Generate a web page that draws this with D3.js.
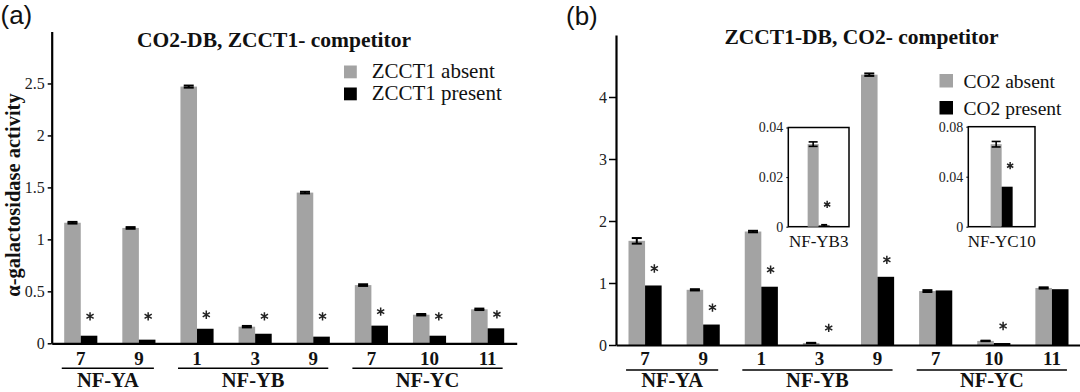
<!DOCTYPE html>
<html><head><meta charset="utf-8">
<script src="https://cdn.jsdelivr.net/npm/d3@7"></script>
<style>body{margin:0;background:#fff}svg{display:block}</style>
</head><body>
<svg id="c" width="1080" height="392"></svg>
<script>
// ---------- data ----------
const categories = ["7","9","1","3","9","7","10","11"];
const groupNames = ["NF-YA","NF-YB","NF-YC"];
const groupOf = [0,0,1,1,1,2,2,2];

const aTitle = "CO2-DB, ZCCT1- competitor";
const aLegend = ["ZCCT1 absent","ZCCT1 present"];
const aTicks = [0,0.5,1,1.5,2,2.5];
const aAbsent    = [1.16,1.11,2.47,0.16,1.45,0.56,0.275,0.327];
const aAbsentErr = [0.008,0.008,0.01,0.007,0.008,0.008,0.007,0.007];
const aPresent   = [0.073,0.035,0.14,0.092,0.064,0.17,0.073,0.144];
const aSig       = [1,1,1,1,1,1,1,1];

const bTitle = "ZCCT1-DB, CO2- competitor";
const bLegend = ["CO2 absent","CO2 present"];
const bTicks = [0,1,2,3,4];
const bAbsent    = [1.68,0.89,1.83,0.033,4.36,0.87,0.066,0.92];
const bAbsentErr = [0.045,0.01,0.012,0.002,0.02,0.015,0.004,0.01];
const bPresent   = [0.96,0.33,0.94,0.0005,1.10,0.88,0.032,0.90];
const bSig       = [1,1,1,1,1,0,1,0];

const insetLabels     = ["NF-YB3","NF-YC10"];
const insetMax        = [0.04,0.08];
const insetTicks      = [[0,0.02,0.04],[0,0.04,0.08]];
const insetTickLabels = [["0","0.02","0.04"],["0","0.04","0.08"]];
const insetAbsent     = [0.0333,0.066];
const insetAbsentErr  = [0.0009,0.0022];
const insetPresent    = [0.0005,0.032];
const insetPresentErr = [0.0003,0];
const insetSig        = [1,1];

// ---------- style ----------
const GRAY = "#a3a3a3", BLACK = "#000";
const SERIF = "'Liberation Serif','Times New Roman',serif";
const SANS = "'Liberation Sans',Arial,sans-serif";
const svg = d3.select("#c");
const star = (g, cx, cy, size) => g.append("path")
  .attr("d", d3.symbol(d3.symbolAsterisk, size)())
  .attr("transform", `translate(${cx},${cy})`)
  .attr("fill", "none").attr("stroke", "#222").attr("stroke-width", 1.5);

function errBar(g, cx, y, v, e, half, sw) {
  g.append("line").attr("x1", cx).attr("x2", cx).attr("y1", y(v + e)).attr("y2", y(Math.max(0, v - e)))
    .attr("stroke", BLACK).attr("stroke-width", sw);
  [v + e, Math.max(0, v - e)].forEach(t => g.append("line")
    .attr("x1", cx - half).attr("x2", cx + half).attr("y1", y(t)).attr("y2", y(t))
    .attr("stroke", BLACK).attr("stroke-width", sw));
}

function drawPanel(c) {
  const g = svg.append("g");
  const x = d3.scaleBand().domain(d3.range(categories.length)).range([c.x0, c.x1])
    .paddingInner(0.43).paddingOuter(0.215);
  const inner = d3.scaleBand().domain(["absent","present"]).range([0, x.bandwidth()]);
  const y = d3.scaleLinear().domain([0, c.yMax]).range([c.yZero, c.yTop]);

  // bars
  g.selectAll(".ga").data(c.absent).join("rect")
    .attr("x", (d,i) => x(i) + inner("absent")).attr("width", inner.bandwidth())
    .attr("y", d => y(d)).attr("height", d => y(0) - y(d)).attr("fill", GRAY);
  g.selectAll(".gp").data(c.present).join("rect")
    .attr("x", (d,i) => x(i) + inner("present")).attr("width", inner.bandwidth())
    .attr("y", d => y(d)).attr("height", d => y(0) - y(d)).attr("fill", BLACK);
  c.absent.forEach((v,i) => errBar(g, x(i) + inner("absent") + inner.bandwidth()/2, y, v, c.absentErr[i], 5, 2));

  // asterisks
  c.sig.forEach((s,i) => {
    if (!s) return;
    const cy = Math.min(y(c.present[i]) - c.starGap, y(0) - c.starFloor);
    star(g, x(i) + inner("present") + inner.bandwidth()/2 + 1, cy, 48);
  });

  // y axis
  const ya = g.append("g").attr("transform", `translate(${c.x0},0)`)
    .call(d3.axisLeft(y).tickValues(c.ticks).tickSize(c.tickSize).tickSizeOuter(0)
      .tickPadding(c.tickPad).tickFormat(d3.format("~g")));
  ya.select(".domain").attr("stroke-width", 2.2);
  ya.selectAll(".tick line").attr("stroke-width", 1.5);
  ya.selectAll("text").style("font-family", SERIF).style("font-size","16px").attr("fill","#222");

  // x axis
  const xa = g.append("g").attr("transform", `translate(0,${c.yZero})`)
    .call(d3.axisBottom(x).tickSize(0).tickSizeOuter(0).tickFormat(i => categories[i]));
  xa.select(".domain").attr("stroke-width", 2.2);
  xa.selectAll("text").attr("dy", null).attr("y", 365 - c.yZero)
    .style("font-family", SERIF).style("font-size","19px").style("font-weight","bold").attr("fill","#111");

  // groups
  groupNames.forEach((name, gi) => {
    const idx = d3.range(categories.length).filter(i => groupOf[i] === gi);
    const x1 = x(idx[0]) + x.bandwidth()/2 - 19, x2 = x(idx[idx.length-1]) + x.bandwidth()/2 + 15;
    g.append("line").attr("x1", x1).attr("x2", x2).attr("y1", c.yZero + 25).attr("y2", c.yZero + 25)
      .attr("stroke", BLACK).attr("stroke-width", 1.6);
    g.append("text").attr("x", (x1 + x2)/2).attr("y", 387.3).attr("text-anchor","middle")
      .style("font-family", SERIF).style("font-size","20.5px").style("font-weight","bold").attr("fill","#111").text(name);
  });

  // title
  g.append("text").attr("x", c.titleX).attr("y", c.titleY).attr("text-anchor","middle")
    .style("font-family", SERIF).style("font-size","21.5px").style("font-weight","bold").attr("fill","#111").text(c.title);

  // legend
  c.legend.forEach((t, k) => {
    g.append("rect").attr("x", c.legX).attr("y", c.legY + k*c.legGap - c.legSize)
      .attr("width", c.legSize).attr("height", c.legSize).attr("fill", k ? BLACK : GRAY);
    g.append("text").attr("x", c.legTextX).attr("y", c.legY + k*c.legGap)
      .style("font-family", SERIF).style("font-size", c.legFont).attr("fill","#111").text(t);
  });

  // panel tag
  g.append("text").attr("x", c.tagX).attr("y", c.tagY)
    .style("font-family", SANS).style("font-size","26px").attr("fill","#111").text(c.tag);
  return {x, y, g};
}

drawPanel({x0:51.7, x1:516.7, yZero:343.3, yTop:31.5, yMax:3, ticks:aTicks,
  absent:aAbsent, absentErr:aAbsentErr, present:aPresent, sig:aSig, starGap:14, starFloor:27,
  tickSize:4, tickPad:3, title:aTitle, titleX:274, titleY:46.7,
  legend:aLegend, legX:344, legY:78.3, legGap:22, legSize:12.8, legTextX:371.7, legFont:"21px",
  tag:"(a)", tagX:0.5, tagY:24});

drawPanel({x0:616, x1:1081, yZero:345, yTop:35, yMax:5, ticks:bTicks,
  absent:bAbsent, absentErr:bAbsentErr, present:bPresent, sig:bSig, starGap:17, starFloor:17,
  tickSize:7, tickPad:2, title:bTitle, titleX:861.5, titleY:44.3,
  legend:bLegend, legX:939.5, legY:87.5, legGap:27, legSize:13.5, legTextX:963.5, legFont:"19.5px",
  tag:"(b)", tagX:566, tagY:25});

// y-axis title (panel a)
svg.append("text").attr("transform","translate(19.5,195) rotate(-90)").attr("text-anchor","middle")
  .style("font-family", SERIF).style("font-size","20.5px").style("font-weight","bold").attr("fill","#111")
  .text("α-galactosidase activity");

// ---------- insets ----------
const insetBoxes = [{x0:788.3, x1:849, top:127.5, bottom:226.7}, {x0:968.3, x1:1035, top:126.7, bottom:226.7}];
insetLabels.forEach((lab, k) => {
  const b = insetBoxes[k];
  const g = svg.append("g");
  const w = b.x1 - b.x0;
  const x = d3.scaleBand().domain([lab]).range([b.x0, b.x1]).paddingOuter((w/22 - 1)/2);
  const inner = d3.scaleBand().domain(["absent","present"]).range([0, x.bandwidth()]);
  const y = d3.scaleLinear().domain([0, insetMax[k]]).range([b.bottom, b.top]);
  g.append("rect").attr("x", b.x0).attr("y", b.top).attr("width", w).attr("height", b.bottom - b.top)
    .attr("fill","#fff").attr("stroke", BLACK).attr("stroke-width", 1.5);
  g.append("rect").attr("x", x(lab) + inner("absent")).attr("width", inner.bandwidth())
    .attr("y", y(insetAbsent[k])).attr("height", y(0) - y(insetAbsent[k])).attr("fill", GRAY);
  g.append("rect").attr("x", x(lab) + inner("present")).attr("width", inner.bandwidth())
    .attr("y", y(insetPresent[k])).attr("height", y(0) - y(insetPresent[k])).attr("fill", BLACK);
  errBar(g, x(lab) + inner("absent") + inner.bandwidth()/2, y, insetAbsent[k], insetAbsentErr[k], 4.5, 1.6);
  if (insetPresentErr[k] > 0)
    errBar(g, x(lab) + inner("present") + inner.bandwidth()/2, y, insetPresent[k], insetPresentErr[k], 3, 1.6);
  if (insetSig[k]) star(g, x(lab) + inner("present") + inner.bandwidth()/2 + 3, y(insetPresent[k]) - 21, 36);
  const ya = g.append("g").attr("transform", `translate(${b.x0},0)`)
    .call(d3.axisLeft(y).tickValues(insetTicks[k]).tickSize(2).tickSizeOuter(0).tickPadding(3)
      .tickFormat((d,i) => insetTickLabels[k][i]));
  ya.select(".domain").remove();
  ya.selectAll("text").style("font-family", SERIF).style("font-size","14px").attr("fill","#222");
  const xa = g.append("g").attr("transform", `translate(0,${b.bottom})`)
    .call(d3.axisBottom(x).tickSize(0).tickSizeOuter(0));
  xa.select(".domain").remove();
  xa.selectAll("text").attr("dy", null).attr("y", 20.6)
    .style("font-family", SERIF).style("font-size","17px").attr("fill","#111");
});
</script>
</body></html>
